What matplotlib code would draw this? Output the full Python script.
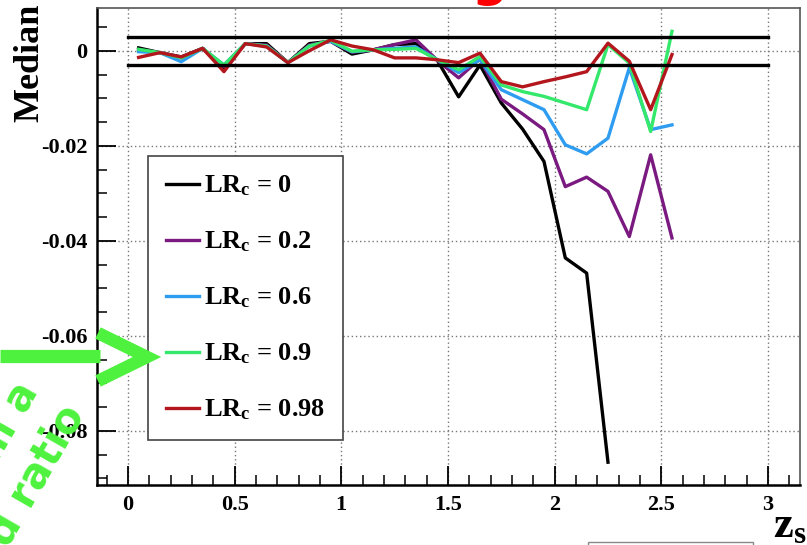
import matplotlib
matplotlib.use("Agg")
import matplotlib.pyplot as plt
from matplotlib.lines import Line2D
from matplotlib.patches import Rectangle
from matplotlib.ticker import MultipleLocator


# ============================================================
# Data: median offset per redshift bin for each LR_c cut
# ============================================================

z_bins = [0.05, 0.15, 0.25, 0.35, 0.45, 0.55, 0.65, 0.75, 0.85, 0.95,
          1.05, 1.15, 1.25, 1.35, 1.45, 1.55, 1.65, 1.75, 1.85, 1.95,
          2.05, 2.15, 2.25, 2.35, 2.45, 2.55]

med_lr0 = [0.0006, -0.0004, -0.0013, 0.0005, -0.0035, 0.0015, 0.0015, -0.0025,
           0.0015, 0.0020, -0.0007, 0.0002, 0.0013, 0.0015, -0.0020, -0.0097,
           -0.0030, -0.0110, -0.0165, -0.0233, -0.0436, -0.0468, -0.0866]

med_lr02 = [0.0002, -0.0004, -0.0015, 0.0005, -0.0033, 0.0015, 0.0012, -0.0025,
            0.0012, 0.0020, -0.0003, 0.0002, 0.0013, 0.0023, -0.0020, -0.0057,
            -0.0017, -0.0102, -0.0133, -0.0166, -0.0286, -0.0266, -0.0296,
            -0.0391, -0.0219, -0.0394]

med_lr06 = [-0.0002, -0.0004, -0.0023, 0.0005, -0.0030, 0.0015, 0.0010, -0.0025,
            0.0010, 0.0020, -0.0002, 0.0002, 0.0005, 0.0008, -0.0019, -0.0046,
            -0.0019, -0.0082, -0.0103, -0.0124, -0.0198, -0.0217, -0.0184,
            -0.0036, -0.0166, -0.0156]

med_lr09 = [0.0003, -0.0004, -0.0015, 0.0005, -0.0030, 0.0015, 0.0010, -0.0025,
            0.0010, 0.0022, -0.0001, 0.0002, 0.0003, 0.0005, -0.0019, -0.0040,
            -0.0012, -0.0072, -0.0086, -0.0096, -0.0110, -0.0124, 0.0013,
            -0.0026, -0.0170, 0.0041]

med_lr098 = [-0.0014, -0.0004, -0.0013, 0.0005, -0.0044, 0.0015, 0.0008, -0.0025,
             0.0000, 0.0023, 0.0010, 0.0002, -0.0015, -0.0015, -0.0019, -0.0025,
             -0.0005, -0.0065, -0.0076, -0.0065, -0.0055, -0.0044, 0.0016,
             -0.0022, -0.0124, -0.0008]

series = [
    (med_lr0, "0", "black"),
    (med_lr02, "0.2", "#7a1a80"),
    (med_lr06, "0.6", "#2e9cf0"),
    (med_lr09, "0.9", "#33e86a"),
    (med_lr098, "0.98", "#b3161c"),
]

band_lo, band_hi = -0.003, 0.003
band_x = [0, 3]


# ============================================================
# Style
# ============================================================

plt.rcParams["font.family"] = "Liberation Serif"
plt.rcParams["font.weight"] = "bold"
plt.rcParams["axes.labelweight"] = "bold"
plt.rcParams["mathtext.fontset"] = "custom"
plt.rcParams["mathtext.rm"] = "Liberation Serif:bold"
plt.rcParams["mathtext.it"] = "Liberation Serif:bold"
plt.rcParams["mathtext.bf"] = "Liberation Serif:bold"

GREEN = "#4ef23e"

W, H = 807, 545
fig = plt.figure(figsize=(W / 100, H / 100), dpi=100)
ax = fig.add_axes([97 / W, 1 - 485 / H, 703 / W, 477 / H])


# ============================================================
# Curves
# ============================================================

for y, lab, col in series:
    ax.plot(z_bins[:len(y)], y, color=col, lw=2.4, label=f"LR$_{{c}}$ = {lab}")

ax.plot(band_x, [band_hi, band_hi], color="black", lw=2.4)
ax.plot(band_x, [band_lo, band_lo], color="black", lw=2.4)

ax.set_xlim(-0.145, 3.15)
ax.set_ylim(-0.0914, 0.0090)

ax.xaxis.set_major_locator(MultipleLocator(0.5))
ax.xaxis.set_minor_locator(MultipleLocator(0.1))
ax.yaxis.set_major_locator(MultipleLocator(0.02))
ax.yaxis.set_minor_locator(MultipleLocator(0.005))
ax.xaxis.set_major_formatter(plt.FuncFormatter(lambda v, p: f"{v:g}"))
ax.yaxis.set_major_formatter(plt.FuncFormatter(lambda v, p: f"{v:g}" if abs(v) > 1e-9 else "0"))

ax.tick_params(which="major", direction="in", length=14, width=1.3, labelsize=16, pad=7)
ax.tick_params(which="minor", direction="in", length=7, width=1.1)
ax.tick_params(top=False, right=False)

ax.grid(True, which="major", linestyle=(0, (1, 2)), color="#777777", lw=1.0)

for side in ["left", "bottom"]:
    ax.spines[side].set_linewidth(1.8)
for side in ["top", "right"]:
    ax.spines[side].set_linewidth(1.2)
    ax.spines[side].set_color("#555555")

ax.set_ylabel("Median", fontsize=26)
ax.yaxis.label.set_va("center")
ax.yaxis.set_label_coords(-0.095, 0.885)

ax.set_xlabel(r"z$_{s}$", fontsize=32)
ax.xaxis.label.set_va("center")
ax.xaxis.set_label_coords(0.985, -0.085)

leg = ax.legend(loc="upper left", bbox_to_anchor=(0.0725, 0.690), fontsize=19,
                labelspacing=1.19, handlelength=1.25, handletextpad=0.2,
                borderpad=0.68, borderaxespad=0, fancybox=False, framealpha=1)
leg.get_frame().set_edgecolor("#444444")
leg.get_frame().set_linewidth(1.2)


# ============================================================
# Slide annotations around the chart
# ============================================================

fig.text(490 / W, 1 + 4 / H, "g", color="red", fontsize=36, weight="bold",
         family="DejaVu Sans", ha="center", va="baseline")

fig.add_artist(Line2D([0, 100 / W], [1 - 356 / H, 1 - 356 / H],
                      color=GREEN, lw=9.5, transform=fig.transFigure,
                      solid_capstyle="butt"))
fig.add_artist(Line2D([98 / W, 147 / W, 98 / W],
                      [1 - 333 / H, 1 - 357 / H, 1 - 381 / H],
                      color=GREEN, lw=9, transform=fig.transFigure,
                      solid_joinstyle="miter", solid_capstyle="butt"))

fig.text(40 / W, 1 - 391 / H, "m a", color=GREEN, fontsize=30, weight="bold",
         family="DejaVu Sans", rotation=60, rotation_mode="anchor",
         ha="right", va="baseline")
fig.text(85 / W, 1 - 414 / H, "d ratio", color=GREEN, fontsize=30, weight="bold",
         family="DejaVu Sans", rotation=60, rotation_mode="anchor",
         ha="right", va="baseline")

fig.add_artist(Rectangle((588 / W, -0.05), 165 / W, 0.05 + 3 / H,
                         transform=fig.transFigure, fill=False,
                         edgecolor="#888888", lw=1.0))

fig.savefig("out.png", dpi=100)
